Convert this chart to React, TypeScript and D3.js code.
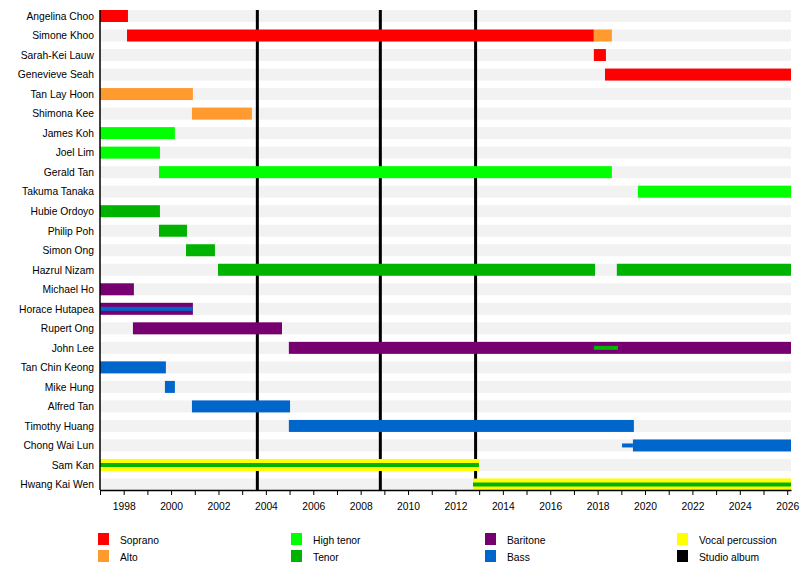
import React, { useRef, useEffect } from 'react';
import * as d3 from 'd3';

// members, top to bottom
const members = [
  'Angelina Choo', 'Simone Khoo', 'Sarah-Kei Lauw', 'Genevieve Seah', 'Tan Lay Hoon',
  'Shimona Kee', 'James Koh', 'Joel Lim', 'Gerald Tan', 'Takuma Tanaka',
  'Hubie Ordoyo', 'Philip Poh', 'Simon Ong', 'Hazrul Nizam', 'Michael Ho',
  'Horace Hutapea', 'Rupert Ong', 'John Lee', 'Tan Chin Keong', 'Mike Hung',
  'Alfred Tan', 'Timothy Huang', 'Chong Wai Lun', 'Sam Kan', 'Hwang Kai Wen',
];

const roles = ['Soprano', 'Alto', 'High tenor', 'Tenor', 'Baritone', 'Bass', 'Vocal percussion', 'Studio album'];
const roleColors = ['#ff0000', '#ff9a2e', '#00ff00', '#00b300', '#770070', '#0066cc', '#ffff00', '#000000'];

const start = 1997;
const now = 2026.16;

// [member, from, to, role]
const periods: [string, number, number, string][] = [
  ['Angelina Choo', 1997, 1998.18, 'Soprano'],
  ['Simone Khoo', 1998.14, 2017.84, 'Soprano'],
  ['Simone Khoo', 2017.84, 2018.6, 'Alto'],
  ['Sarah-Kei Lauw', 2017.84, 2018.35, 'Soprano'],
  ['Genevieve Seah', 2018.31, now, 'Soprano'],
  ['Tan Lay Hoon', 1997, 2000.92, 'Alto'],
  ['Shimona Kee', 2000.88, 2003.41, 'Alto'],
  ['James Koh', 1997, 2000.16, 'High tenor'],
  ['Joel Lim', 1997, 1999.53, 'High tenor'],
  ['Gerald Tan', 1999.49, 2018.6, 'High tenor'],
  ['Takuma Tanaka', 2019.7, now, 'High tenor'],
  ['Hubie Ordoyo', 1997, 1999.53, 'Tenor'],
  ['Philip Poh', 1999.49, 2000.67, 'Tenor'],
  ['Simon Ong', 2000.63, 2001.85, 'Tenor'],
  ['Hazrul Nizam', 2001.98, 2017.89, 'Tenor'],
  ['Hazrul Nizam', 2018.81, now, 'Tenor'],
  ['Michael Ho', 1997, 1998.43, 'Baritone'],
  ['Horace Hutapea', 1997, 2000.92, 'Baritone'],
  ['Rupert Ong', 1998.39, 2004.68, 'Baritone'],
  ['John Lee', 2004.97, now, 'Baritone'],
  ['Tan Chin Keong', 1997, 1999.78, 'Bass'],
  ['Mike Hung', 1999.74, 2000.16, 'Bass'],
  ['Alfred Tan', 2000.88, 2005.02, 'Bass'],
  ['Timothy Huang', 2004.97, 2019.53, 'Bass'],
  ['Chong Wai Lun', 2019.49, now, 'Bass'],
  ['Sam Kan', 1997, 2012.99, 'Vocal percussion'],
  ['Hwang Kai Wen', 2012.74, now, 'Vocal percussion'],
];

// secondary roles, drawn as thin bars
const thinPeriods: [string, number, number, string][] = [
  ['Horace Hutapea', 1997, 2000.92, 'Bass'],
  ['John Lee', 2017.84, 2018.86, 'Tenor'],
  ['Chong Wai Lun', 2019.03, 2019.49, 'Bass'],
  ['Sam Kan', 1997, 2012.99, 'Tenor'],
  ['Hwang Kai Wen', 2012.74, now, 'Tenor'],
];

const albums = [2003.64, 2008.83, 2012.85];
const yearTicks = d3.range(1997, 2027);

const width = 800;
const height = 570;

const App: React.FC = () => {
  const svgRef = useRef<SVGSVGElement>(null);

  useEffect(() => {
    if (!svgRef.current) return;
    const svg = d3.select(svgRef.current);
    svg.selectAll('*').remove();

    const font = '"Liberation Sans", Arial, sans-serif';
    const left = 100;
    const right = 791;
    const top = 10;
    const bottom = 490;
    const barH = 12;
    const thinH = 4;

    const x = d3.scaleLinear().domain([start, now]).range([left, right]);
    const y = d3.scalePoint<string>().domain(members).range([16, 484.5]);
    const color = d3.scaleOrdinal<string, string>().domain(roles).range(roleColors);

    // grey background rows
    svg.append('g')
      .selectAll('rect')
      .data(members)
      .enter()
      .append('rect')
      .attr('x', left)
      .attr('y', d => (y(d) as number) - barH / 2)
      .attr('width', right - left)
      .attr('height', barH)
      .attr('fill', '#f2f2f2');

    // studio albums
    svg.append('g')
      .selectAll('line')
      .data(albums)
      .enter()
      .append('line')
      .attr('x1', d => x(d))
      .attr('x2', d => x(d))
      .attr('y1', top)
      .attr('y2', bottom)
      .attr('stroke', color('Studio album'))
      .attr('stroke-width', 3);

    // member bars
    svg.append('g')
      .selectAll('rect')
      .data(periods)
      .enter()
      .append('rect')
      .attr('x', d => x(d[1]))
      .attr('y', d => (y(d[0]) as number) - barH / 2)
      .attr('width', d => x(d[2]) - x(d[1]))
      .attr('height', barH)
      .attr('fill', d => color(d[3]));

    svg.append('g')
      .selectAll('rect')
      .data(thinPeriods)
      .enter()
      .append('rect')
      .attr('x', d => x(d[1]))
      .attr('y', d => (y(d[0]) as number) - thinH / 2)
      .attr('width', d => x(d[2]) - x(d[1]))
      .attr('height', thinH)
      .attr('fill', d => color(d[3]));

    // axes
    const xAxis = d3.axisBottom(x)
      .tickValues(yearTicks)
      .tickFormat(d => (+d % 2 === 0 ? String(d) : ''))
      .tickSize(5)
      .tickSizeOuter(0)
      .tickPadding(8);

    const gx = svg.append('g')
      .attr('transform', `translate(0, ${bottom})`)
      .call(xAxis);
    gx.selectAll('text').style('font-family', font).style('font-size', '10.3px').attr('fill', '#000');
    gx.selectAll('line').attr('stroke', '#000');
    gx.select('.domain').attr('stroke', '#000').attr('stroke-width', 1.5);

    const yAxis = d3.axisLeft(y).tickSize(0).tickPadding(6);
    const gy = svg.append('g')
      .attr('transform', `translate(${left}, 0)`)
      .call(yAxis);
    gy.select('.domain').remove();
    gy.selectAll('text').style('font-family', font).style('font-size', '10.3px').attr('fill', '#000');

    svg.append('line')
      .attr('x1', left)
      .attr('x2', left)
      .attr('y1', top)
      .attr('y2', bottom)
      .attr('stroke', '#000')
      .attr('stroke-width', 1.5);

    // legend
    const colX = [98, 291, 485, 677];
    const rowY = [533, 550];
    const legend = svg.append('g');
    roles.forEach((r, i) => {
      const col = Math.floor(i / 2);
      const row = i % 2;
      const item = legend.append('g')
        .attr('transform', `translate(${colX[col]}, ${rowY[row]})`);
      item.append('rect')
        .attr('width', 11)
        .attr('height', 12)
        .attr('fill', color(r));
      item.append('text')
        .attr('x', 22)
        .attr('y', 10.5)
        .style('font-family', font)
        .style('font-size', '10.3px')
        .attr('fill', '#000')
        .text(r);
    });
  }, []);

  return (
    <svg
      ref={svgRef}
      width={width}
      height={height}
      style={{ position: 'absolute', left: 0, top: 0, background: '#fff' }}
    />
  );
};

export default App;
